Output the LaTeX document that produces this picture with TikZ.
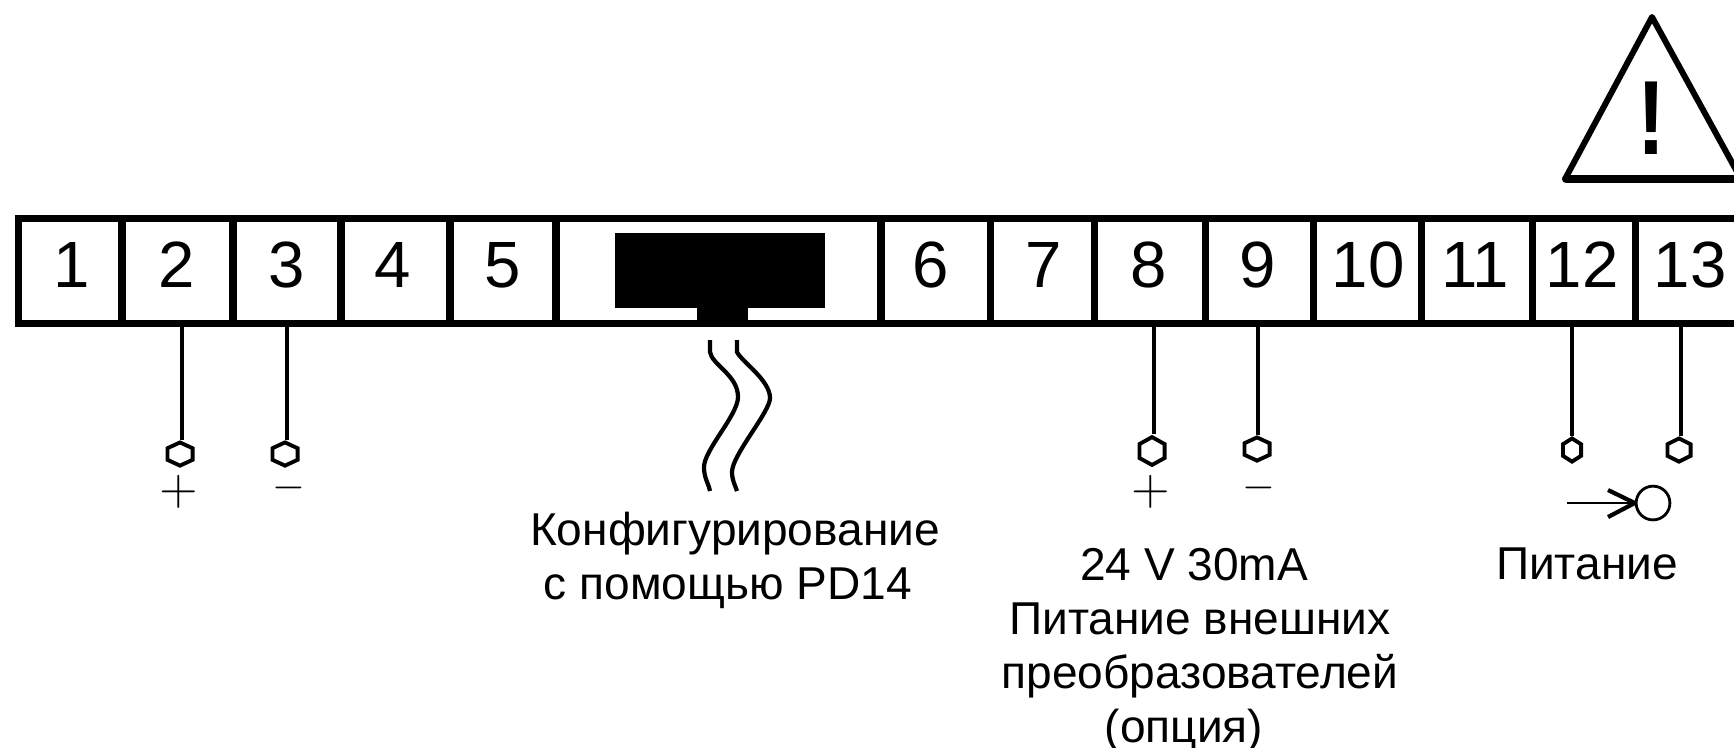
\documentclass[tikz,border=0pt]{standalone}
\usepackage{fontspec}
\setmainfont{Liberation Sans}
\usetikzlibrary{shapes.geometric}
\tikzset{
  wireline/.style = {line width = 1.2pt},
  bandline/.style = {line width = 2pt},
  thinline/.style = {line width = 0.8pt},
  terminal/.style = {draw, regular polygon, regular polygon sides = 6, regular polygon rotate = 30,
    inner sep = 0pt, minimum size = 6.6pt, line width = 1.1pt, transform shape},
  numlabel/.style = {inner sep = 0pt, font = \fontsize{18.6}{18.6}\selectfont},
  textlabel/.style = {inner sep = 0pt, anchor = base, font = \fontsize{13.1}{15.4}\selectfont},
  pluslabel/.style = {inner sep = 0pt, font = \fontsize{15.5}{15.5}\selectfont},
  minuslabel/.style = {inner sep = 0pt, font = \fontsize{13}{13}\selectfont}
}
\begin{document}
\begin{tikzpicture}[x=0.01cm,y=-0.01cm]
  \useasboundingbox (0,0) rectangle (1734,747);

  % terminal strip
  \coordinate (bandnw) at (18.5,218);
  \coordinate (bandne) at (1734,218);
  \coordinate (bandsw) at (18.5,323);
  \coordinate (bandse) at (1734,323);
  \draw[bandline] (bandne)--(bandnw)--(bandsw)--(bandse);
  \foreach \sepx in {122,233,341,450,556,881,990,1094,1205,1313,1421,1532,1635}
    \draw[bandline] (\sepx,218)--(\sepx,323);

  \node[numlabel] (num1) at (72,265) {1};
  \node[numlabel] (num2) at (177,265) {2};
  \node[numlabel] (num3) at (287,265) {3};
  \node[numlabel] (num4) at (393,265) {4};
  \node[numlabel] (num5) at (503,265) {5};
  \node[numlabel] (num6) at (931,265) {6};
  \node[numlabel] (num7) at (1044,265) {7};
  \node[numlabel] (num8) at (1149,265) {8};
  \node[numlabel] (num9) at (1258,265) {9};
  \node[numlabel] (num10) at (1368,265) {10};
  \node[numlabel] (num11) at (1475,265) {11};
  \node[numlabel] (num12) at (1582,265) {12};
  \node[numlabel] (num13) at (1690,265) {13};

  % connector block
  \fill (615,233) rectangle (825,308);
  \fill (697,300) rectangle (748,326);
  \draw[wireline] (710,340)--(710,352) .. controls (712,365) and (738,375) .. (738,397)
    .. controls (738,415) and (704,450) .. (704,467) .. controls (704,478) and (708,482) .. (710,491);
  \draw[wireline] (737,340)--(737,352) .. controls (742,362) and (770,380) .. (770,398)
    .. controls (770,412) and (732,455) .. (732,472) .. controls (732,480) and (735,485) .. (737,491);
  \node[textlabel] (conftext) at (735,545) {Конфигурирование};
  \node[textlabel] (pdtext) at (728,599) {с помощью PD14};

  % pins
  \coordinate (tap2) at (182,327);
  \coordinate (tap3) at (287,327);
  \coordinate (tap8) at (1154,327);
  \coordinate (tap9) at (1258,327);
  \coordinate (tap12) at (1572,327);
  \coordinate (tap13) at (1681,327);
  \node[terminal, xscale=1.25] (pin2) at (180,454) {};
  \node[terminal, xscale=1.25] (pin3) at (285,454) {};
  \node[terminal, xscale=1.25, yscale=1.2] (pin8) at (1152,451) {};
  \node[terminal, xscale=1.25] (pin9) at (1257,449) {};
  \node[terminal, xscale=0.9] (pin12) at (1572,450) {};
  \node[terminal, xscale=1.15] (pin13) at (1679,450) {};
  \draw[wireline] (tap2)--(tap2|-pin2.north);
  \draw[wireline] (tap3)--(tap3|-pin3.north);
  \draw[wireline] (tap8)--(tap8|-pin8.north);
  \draw[wireline] (tap9)--(tap9|-pin9.north);
  \draw[wireline] (tap12)--(tap12|-pin12.north);
  \draw[wireline] (tap13)--(tap13|-pin13.north);

  \node[pluslabel] (plus2) at (179,492) {$+$};
  \node[minuslabel] (minus3) at (289,488) {$-$};
  \node[pluslabel] (plus8) at (1151,492) {$+$};
  \node[minuslabel] (minus9) at (1259,488) {$-$};

  \node[textlabel] (volttext) at (1194,580) {24 V 30mA};
  \node[textlabel] (supptext) at (1200,634) {Питание внешних};
  \node[textlabel] (convtext) at (1200,688) {преобразователей};
  \node[textlabel] (opttext) at (1184,742) {(опция)};

  % power symbol
  \node[circle, draw, thinline, inner sep = 0pt, minimum size = 9.6pt] (powcirc) at (1653,503) {};
  \coordinate (powtail) at (1567,503);
  \coordinate (powtipa) at (1608,490);
  \coordinate (powtipb) at (1608,517);
  \draw[thinline] (powtail)--(powcirc.west);
  \draw[wireline, line join = round] (powtipa)--(powcirc.west)--(powtipb);
  \node[textlabel] (powtext) at (1587,579) {Питание};

  % warning sign
  \draw[line width = 1.7pt, line join = round] (1565,179)--(1652,17)--(1741,179);
  \draw[line width = 2.3pt, line cap = round] (1566,179)--(1741,179);
  \node[inner sep = 0pt, transform shape, xscale = 0.8, font = \fontsize{30}{30}\selectfont\bfseries] (warnmark) at (1652,118) {!};
\end{tikzpicture}
\end{document}
